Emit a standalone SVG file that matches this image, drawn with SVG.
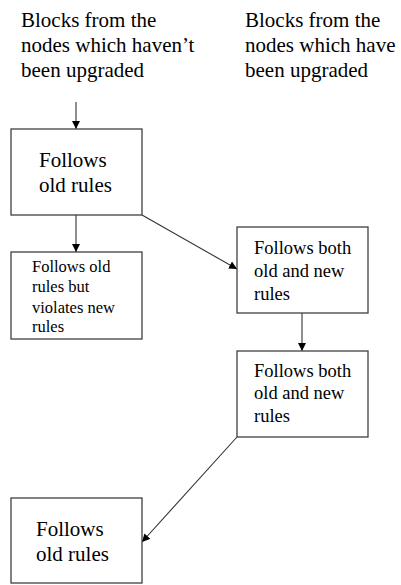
<svg xmlns="http://www.w3.org/2000/svg" width="401" height="585" viewBox="0 0 401 585">
<style>
.box{fill:#fff;stroke:#404040;stroke-width:1.3}
.t{font-family:"Liberation Serif","Times New Roman",serif;fill:#000}
.big{font-size:21px}
.mid{font-size:18.5px}
.sm{font-size:16.5px}
.c{stroke:#333;stroke-width:1.1;fill:none;marker-end:url(#ah)}
</style>
<defs>
<marker id="ah" viewBox="0 0 10 10" refX="10" refY="5" markerWidth="8" markerHeight="8" markerUnits="userSpaceOnUse" orient="auto">
<path d="M0,0 L10,5 L0,10 z" fill="#000"/>
</marker>
</defs>
<rect width="401" height="585" fill="#fff"/>
<g id="label-left">
<text class="t big" x="21" y="27">Blocks from the</text>
<text class="t big" x="21" y="52">nodes which haven’t</text>
<text class="t big" x="21" y="77">been upgraded</text>
</g>
<g id="label-right">
<text class="t big" x="245" y="27">Blocks from the</text>
<text class="t big" x="245" y="52">nodes which have</text>
<text class="t big" x="245" y="77">been upgraded</text>
</g>
<g id="connectors">
<line class="c" x1="76" y1="102" x2="76" y2="129"/>
<line class="c" x1="76" y1="215" x2="76" y2="252"/>
<line class="c" x1="142" y1="215" x2="237" y2="269"/>
<line class="c" x1="302" y1="313" x2="302" y2="351"/>
<line class="c" x1="237" y1="437" x2="142" y2="542"/>
</g>
<g id="node-old1">
<rect class="box" x="11" y="129" width="131" height="86"/>
<text class="t big" x="39" y="167">Follows</text>
<text class="t big" x="39" y="192">old rules</text>
</g>
<g id="node-violates">
<rect class="box" x="11" y="252" width="131" height="87"/>
<text class="t sm" x="32" y="272">Follows old</text>
<text class="t sm" x="32" y="292">rules but</text>
<text class="t sm" x="32" y="313">violates new</text>
<text class="t sm" x="32" y="332">rules</text>
</g>
<g id="node-both1">
<rect class="box" x="237" y="227" width="131" height="86"/>
<text class="t mid" x="254" y="254">Follows both</text>
<text class="t mid" x="254" y="277">old and new</text>
<text class="t mid" x="254" y="300">rules</text>
</g>
<g id="node-both2">
<rect class="box" x="237" y="351" width="131" height="86"/>
<text class="t mid" x="254" y="377">Follows both</text>
<text class="t mid" x="254" y="399">old and new</text>
<text class="t mid" x="254" y="422">rules</text>
</g>
<g id="node-old2">
<rect class="box" x="11" y="498" width="131" height="85"/>
<text class="t big" x="36" y="536">Follows</text>
<text class="t big" x="36" y="561">old rules</text>
</g>
</svg>
